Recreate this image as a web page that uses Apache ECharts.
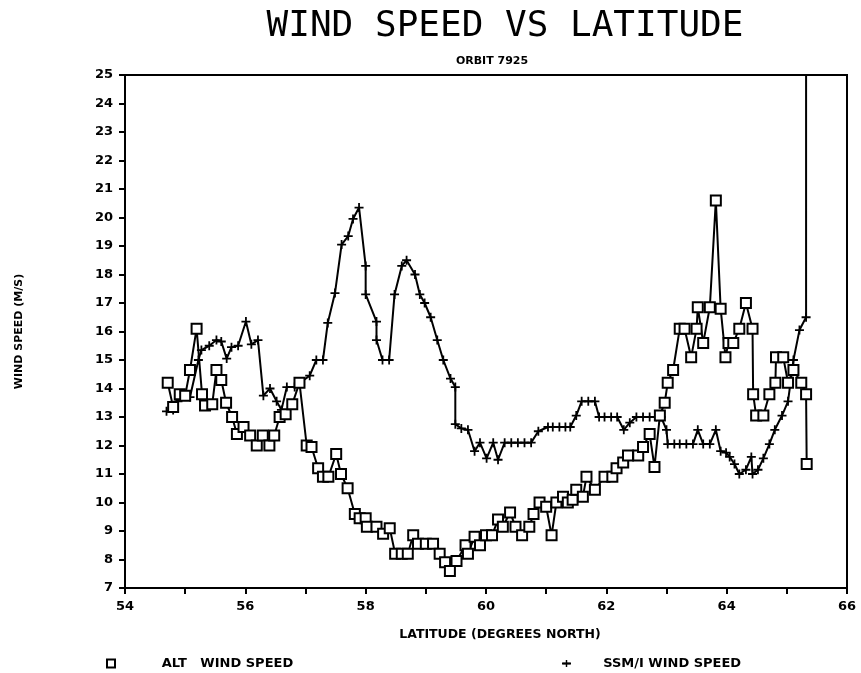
<!DOCTYPE html>
<html>
<head>
<meta charset="utf-8">
<script src="https://cdn.jsdelivr.net/npm/echarts@6/dist/echarts.min.js"></script>
<style>html,body{margin:0;padding:0;background:#fff;}#chart{width:861px;height:673px;}</style>
</head>
<body>
<div id="chart"></div>
<script>
var titleText = 'WIND SPEED VS LATITUDE';
var subTitleText = 'ORBIT 7925';
var xAxisName = 'LATITUDE (DEGREES NORTH)';
var yAxisName = 'WIND SPEED (M/S)';
var altName = 'ALT   WIND SPEED';
var ssmName = 'SSM/I WIND SPEED';

var altLat = [54.71,54.80,54.91,55.00,55.08,55.19,55.28,55.33,55.45,55.52,55.60,55.68,55.78,55.86,55.97,56.08,56.19,56.29,56.40,56.48,56.57,56.67,56.78,56.90,57.02,57.10,57.21,57.29,57.38,57.51,57.59,57.70,57.82,57.90,58.00,58.02,58.18,58.29,58.40,58.49,58.60,58.70,58.79,58.87,59.00,59.12,59.23,59.32,59.40,59.51,59.66,59.70,59.81,59.90,60.00,60.10,60.20,60.28,60.40,60.49,60.60,60.72,60.79,60.89,61.00,61.09,61.17,61.28,61.36,61.44,61.50,61.61,61.67,61.81,61.97,62.10,62.17,62.28,62.36,62.53,62.61,62.72,62.80,62.89,62.97,63.02,63.11,63.22,63.30,63.41,63.50,63.52,63.61,63.72,63.82,63.90,63.98,64.03,64.11,64.21,64.32,64.43,64.44,64.49,64.61,64.71,64.81,64.82,64.94,65.02,65.11,65.24,65.32,65.33];
var altSpeed = [14.2,13.35,13.8,13.75,14.65,16.1,13.8,13.4,13.45,14.65,14.3,13.5,13.0,12.4,12.65,12.35,12.0,12.35,12.0,12.35,13.0,13.1,13.45,14.2,12.0,11.95,11.2,10.9,10.9,11.7,11.0,10.5,9.6,9.45,9.45,9.15,9.15,8.9,9.1,8.2,8.2,8.2,8.85,8.55,8.55,8.55,8.2,7.9,7.6,7.95,8.5,8.2,8.8,8.5,8.85,8.85,9.4,9.15,9.65,9.15,8.85,9.15,9.6,10.0,9.85,8.85,10.0,10.2,10.0,10.1,10.45,10.2,10.9,10.45,10.9,10.9,11.2,11.4,11.65,11.65,11.95,12.4,11.25,13.05,13.5,14.2,14.65,16.1,16.1,15.1,16.1,16.85,15.6,16.85,20.6,16.8,15.1,15.6,15.6,16.1,17.0,16.1,13.8,13.05,13.05,13.8,14.2,15.1,15.1,14.2,14.65,14.2,13.8,11.35];

var ssmLat = [54.69,54.80,54.88,54.97,55.08,55.22,55.27,55.40,55.52,55.60,55.69,55.77,55.88,56.01,56.10,56.21,56.30,56.41,56.52,56.60,56.69,56.82,56.91,57.07,57.18,57.29,57.37,57.49,57.60,57.71,57.79,57.89,58.00,58.00,58.18,58.18,58.28,58.39,58.48,58.60,58.68,58.82,58.90,58.98,59.08,59.19,59.29,59.41,59.49,59.49,59.59,59.70,59.81,59.90,60.01,60.12,60.20,60.31,60.42,60.53,60.64,60.75,60.87,61.03,61.11,61.22,61.32,61.40,61.50,61.59,61.70,61.81,61.88,61.97,62.08,62.18,62.29,62.39,62.50,62.61,62.72,62.83,62.91,63.00,63.02,63.13,63.22,63.33,63.44,63.52,63.61,63.72,63.82,63.90,63.99,64.05,64.13,64.21,64.32,64.41,64.43,64.52,64.61,64.71,64.80,64.92,65.02,65.11,65.21,65.32,65.32];
var ssmSpeed = [13.2,13.25,13.55,13.75,13.7,15.0,15.35,15.5,15.7,15.65,15.05,15.45,15.5,16.35,15.55,15.7,13.75,14.0,13.55,13.25,14.05,14.05,14.2,14.45,15.0,15.0,16.3,17.35,19.05,19.35,19.95,20.35,18.3,17.3,16.35,15.7,15.0,15.0,17.3,18.3,18.5,18.0,17.3,17.0,16.5,15.7,15.0,14.35,14.05,12.75,12.6,12.55,11.8,12.1,11.55,12.1,11.5,12.1,12.1,12.1,12.1,12.1,12.5,12.65,12.65,12.65,12.65,12.65,13.05,13.55,13.55,13.55,13.0,13.0,13.0,13.0,12.55,12.8,13.0,13.0,13.0,13.0,13.0,12.55,12.05,12.05,12.05,12.05,12.05,12.55,12.05,12.05,12.55,11.8,11.75,11.6,11.35,11.0,11.15,11.6,11.0,11.15,11.55,12.05,12.55,13.05,13.55,15.0,16.05,16.5,40];

var xTickLabels = ['54','56','58','60','62','64','66'];
var yMin = 7, yMax = 25, xMin = 54, xMax = 66;

function zip(a, b) { return a.map(function (v, i) { return [v, b[i]]; }); }

var plusPath = 'path://M4,0H6V10H4Z M0,4H10V6H0Z';
var font = 'DejaVu Sans';

var chart = echarts.init(document.getElementById('chart'), null, {renderer: 'canvas'});
chart.setOption({
  backgroundColor: '#fff',
  animation: false,
  title: [
    {text: titleText, left: 500, top: 4, textAlign: 'center',
     textStyle: {fontFamily: 'DejaVu Sans Mono', fontSize: 36, fontWeight: 'normal', color: '#000'}},
    {text: subTitleText, left: 487, top: 51, textAlign: 'center',
     textStyle: {fontFamily: font, fontSize: 11, fontWeight: 'bold', color: '#000'}},
    {text: xAxisName, left: 495, top: 623, textAlign: 'center',
     textStyle: {fontFamily: font, fontSize: 12.5, fontWeight: 'bold', color: '#000'}}
  ],
  legend: [
    {data: [altName], left: 100, top: 652, itemWidth: 10, itemHeight: 10, itemGap: 0,
     formatter: '         {name}',
     textStyle: {fontFamily: font, fontSize: 13, fontWeight: 'bold', color: '#000'}},
    {data: [ssmName], left: 556, top: 652, itemWidth: 9, itemHeight: 9, itemGap: 0,
     formatter: '      {name}',
     textStyle: {fontFamily: font, fontSize: 13, fontWeight: 'bold', color: '#000'}}
  ],
  grid: {left: 125, right: 14, top: 75, bottom: 85, show: true, borderColor: '#000', borderWidth: 2, backgroundColor: 'transparent'},
  xAxis: {
    type: 'value', min: xMin, max: xMax, interval: 1,
    axisLine: {show: true, lineStyle: {color: '#000', width: 2}},
    axisTick: {show: true, length: 6, lineStyle: {color: '#000', width: 2}},
    splitLine: {show: false},
    axisLabel: {
      margin: 12, color: '#000', fontFamily: font, fontSize: 13, fontWeight: 'bold',
      formatter: function (v) { var s = String(v); return xTickLabels.indexOf(s) >= 0 ? s : ''; }
    }
  },
  yAxis: {
    type: 'value', min: yMin, max: yMax, interval: 1,
    name: yAxisName, nameLocation: 'middle', nameGap: 100, nameRotate: 90,
    nameTextStyle: {fontFamily: font, fontSize: 11, fontWeight: 'bold', color: '#000'},
    axisLine: {show: true, lineStyle: {color: '#000', width: 2}},
    axisTick: {show: true, length: 6, lineStyle: {color: '#000', width: 2}},
    splitLine: {show: false},
    axisLabel: {margin: 12, color: '#000', fontFamily: font, fontSize: 13, fontWeight: 'bold'}
  },
  series: [
    {
      name: altName, type: 'line', data: zip(altLat, altSpeed),
      symbol: 'rect', symbolSize: 10, showAllSymbol: true, clip: true,
      lineStyle: {color: '#000', width: 2},
      itemStyle: {color: '#fff', borderColor: '#000', borderWidth: 2},
      z: 3
    },
    {
      name: ssmName, type: 'line', data: zip(ssmLat, ssmSpeed),
      symbol: plusPath, symbolSize: 9, showAllSymbol: true, clip: true,
      lineStyle: {color: '#000', width: 2},
      itemStyle: {color: '#000', borderWidth: 0},
      z: 2
    }
  ]
});
</script>
</body>
</html>
